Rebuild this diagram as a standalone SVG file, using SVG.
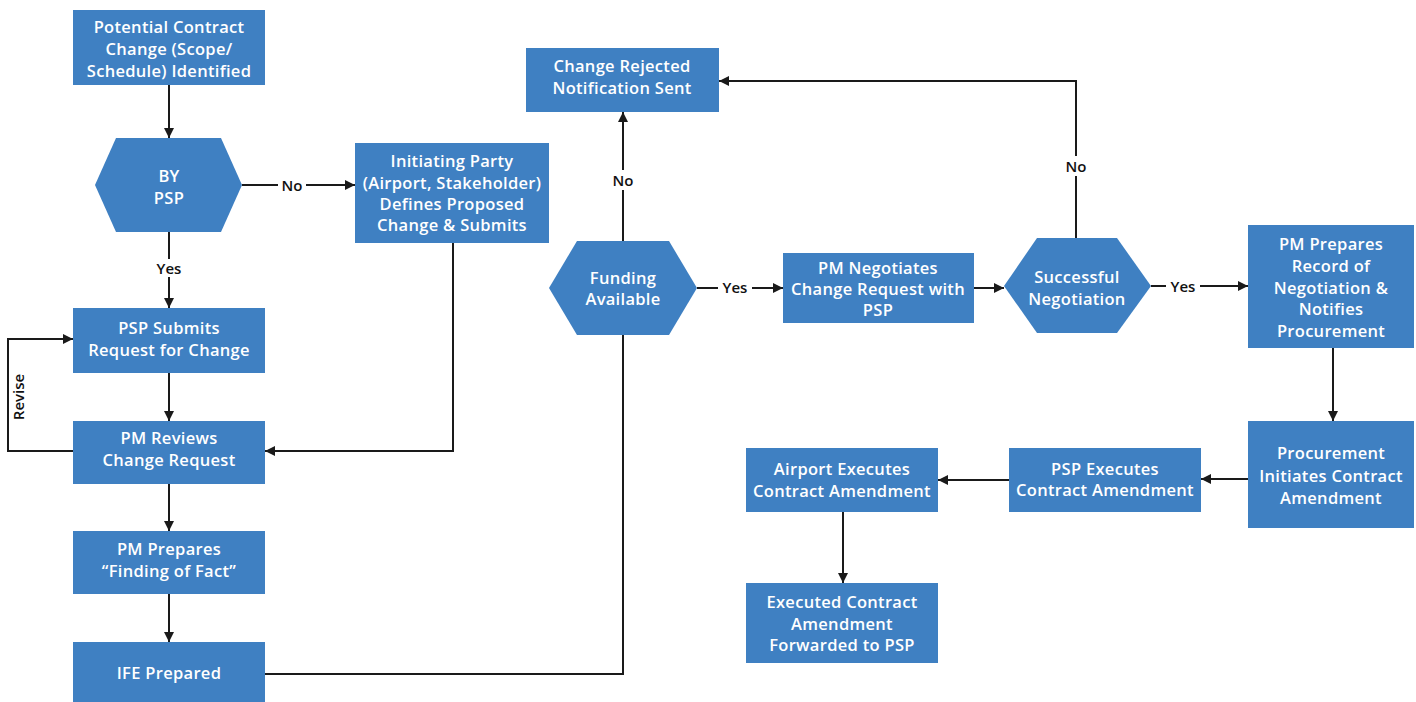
<svg xmlns="http://www.w3.org/2000/svg" width="1416" height="702" viewBox="0 0 1416 702">
  <style>
    .box { fill: #3f80c2; }
    .nt { fill: #ffffff; font-family: "Open Sans", "Liberation Sans", sans-serif; font-weight: 600; font-size: 16.5px; letter-spacing: 0.3px; text-anchor: middle; dominant-baseline: central; }
    .ln { fill: none; stroke: #1a1a1a; stroke-width: 2; }
    .arr { marker-end: url(#ah); }
    .lbl { fill: #111111; font-family: "Open Sans", "Liberation Sans", sans-serif; font-weight: 600; font-size: 15px; text-anchor: middle; dominant-baseline: central; }
    .lblbg { fill: #ffffff; }
  </style>
  <defs>
    <marker id="ah" viewBox="0 0 10 10" refX="10" refY="5" markerWidth="5" markerHeight="5" orient="auto" markerUnits="strokeWidth">
      <path d="M0,0 L10,5 L0,10 Z" fill="#1a1a1a"/>
    </marker>
  </defs>
  <rect width="1416" height="702" fill="#ffffff"/>

  <!-- connectors -->
  <g id="connectors">
    <path class="ln arr" d="M169,85 V138"/>
    <path class="ln arr" d="M242,185 H355"/>
    <path class="ln arr" d="M169,232 V308"/>
    <path class="ln arr" d="M169,373 V421"/>
    <path class="ln arr" d="M169,484 V531"/>
    <path class="ln arr" d="M169,594 V642"/>
    <path class="ln arr" d="M73,451 H8 V339 H73"/>
    <path class="ln arr" d="M453,243 V451 H265"/>
    <path class="ln" d="M265,674 H623 V335"/>
    <path class="ln arr" d="M623,241 V112"/>
    <path class="ln arr" d="M697,288 H783"/>
    <path class="ln arr" d="M974,288 H1004"/>
    <path class="ln arr" d="M1076,238 V81 H719"/>
    <path class="ln arr" d="M1151,286 H1248"/>
    <path class="ln arr" d="M1333,348 V421"/>
    <path class="ln arr" d="M1248,479 H1201"/>
    <path class="ln arr" d="M1009,480 H938"/>
    <path class="ln arr" d="M843,512 V583"/>

    <!-- branch labels -->
    <rect class="lblbg" x="278" y="175" width="28" height="20"/>
    <text class="lbl" x="292" y="185">No</text>
    <rect class="lblbg" x="153" y="259" width="32" height="18"/>
    <text class="lbl" x="169" y="268">Yes</text>
    <text class="lbl" transform="translate(18,397) rotate(-90)">Revise</text>
    <rect class="lblbg" x="609" y="170" width="28" height="20"/>
    <text class="lbl" x="623" y="180">No</text>
    <rect class="lblbg" x="718" y="278" width="34" height="20"/>
    <text class="lbl" x="735" y="287">Yes</text>
    <rect class="lblbg" x="1062" y="156" width="28" height="20"/>
    <text class="lbl" x="1076" y="166">No</text>
    <rect class="lblbg" x="1166" y="276" width="34" height="20"/>
    <text class="lbl" x="1183" y="286">Yes</text>
  </g>

  <!-- nodes -->
  <g id="n-potential-change">
    <rect class="box" x="73" y="10" width="192" height="75"/>
    <text class="nt" x="169" y="26">Potential Contract</text>
    <text class="nt" x="169" y="48">Change (Scope/</text>
    <text class="nt" x="169" y="70">Schedule) Identified</text>
  </g>
  <g id="n-by-psp">
    <polygon class="box" points="95,185 116,138 221,138 242,185 221,232 116,232"/>
    <text class="nt" x="169" y="175">BY</text>
    <text class="nt" x="169" y="197">PSP</text>
  </g>
  <g id="n-initiating-party">
    <rect class="box" x="355" y="143" width="194" height="100"/>
    <text class="nt" x="452" y="160">Initiating Party</text>
    <text class="nt" x="452" y="182">(Airport, Stakeholder)</text>
    <text class="nt" x="452" y="203">Defines Proposed</text>
    <text class="nt" x="452" y="224">Change &amp; Submits</text>
  </g>
  <g id="n-psp-submits">
    <rect class="box" x="73" y="308" width="192" height="65"/>
    <text class="nt" x="169" y="327">PSP Submits</text>
    <text class="nt" x="169" y="349">Request for Change</text>
  </g>
  <g id="n-pm-reviews">
    <rect class="box" x="73" y="421" width="192" height="63"/>
    <text class="nt" x="169" y="437">PM Reviews</text>
    <text class="nt" x="169" y="459">Change Request</text>
  </g>
  <g id="n-finding-of-fact">
    <rect class="box" x="73" y="531" width="192" height="63"/>
    <text class="nt" x="169" y="548">PM Prepares</text>
    <text class="nt" x="169" y="570">“Finding of Fact”</text>
  </g>
  <g id="n-ife-prepared">
    <rect class="box" x="73" y="642" width="192" height="60"/>
    <text class="nt" x="169" y="672">IFE Prepared</text>
  </g>
  <g id="n-funding">
    <polygon class="box" points="549,288 577,241 669,241 697,288 669,335 577,335"/>
    <text class="nt" x="623" y="277">Funding</text>
    <text class="nt" x="623" y="298">Available</text>
  </g>
  <g id="n-change-rejected">
    <rect class="box" x="526" y="48" width="193" height="64"/>
    <text class="nt" x="622" y="65">Change Rejected</text>
    <text class="nt" x="622" y="87">Notification Sent</text>
  </g>
  <g id="n-pm-negotiates">
    <rect class="box" x="783" y="253" width="191" height="70"/>
    <text class="nt" x="878" y="267">PM Negotiates</text>
    <text class="nt" x="878" y="288">Change Request with</text>
    <text class="nt" x="878" y="309">PSP</text>
  </g>
  <g id="n-successful">
    <polygon class="box" points="1004,286 1037,238 1117,238 1151,286 1117,333 1037,333"/>
    <text class="nt" x="1077" y="276">Successful</text>
    <text class="nt" x="1077" y="298">Negotiation</text>
  </g>
  <g id="n-record-of-negotiation">
    <rect class="box" x="1248" y="225" width="166" height="123"/>
    <text class="nt" x="1331" y="243">PM Prepares</text>
    <text class="nt" x="1331" y="265">Record of</text>
    <text class="nt" x="1331" y="287">Negotiation &amp;</text>
    <text class="nt" x="1331" y="308">Notifies</text>
    <text class="nt" x="1331" y="330">Procurement</text>
  </g>
  <g id="n-procurement">
    <rect class="box" x="1248" y="421" width="166" height="107"/>
    <text class="nt" x="1331" y="452">Procurement</text>
    <text class="nt" x="1331" y="475">Initiates Contract</text>
    <text class="nt" x="1331" y="497">Amendment</text>
  </g>
  <g id="n-psp-executes">
    <rect class="box" x="1009" y="448" width="192" height="64"/>
    <text class="nt" x="1105" y="468">PSP Executes</text>
    <text class="nt" x="1105" y="489">Contract Amendment</text>
  </g>
  <g id="n-airport-executes">
    <rect class="box" x="746" y="448" width="192" height="64"/>
    <text class="nt" x="842" y="468">Airport Executes</text>
    <text class="nt" x="842" y="490">Contract Amendment</text>
  </g>
  <g id="n-forwarded">
    <rect class="box" x="746" y="583" width="192" height="80"/>
    <text class="nt" x="842" y="601">Executed Contract</text>
    <text class="nt" x="842" y="623">Amendment</text>
    <text class="nt" x="842" y="644">Forwarded to PSP</text>
  </g>
</svg>
